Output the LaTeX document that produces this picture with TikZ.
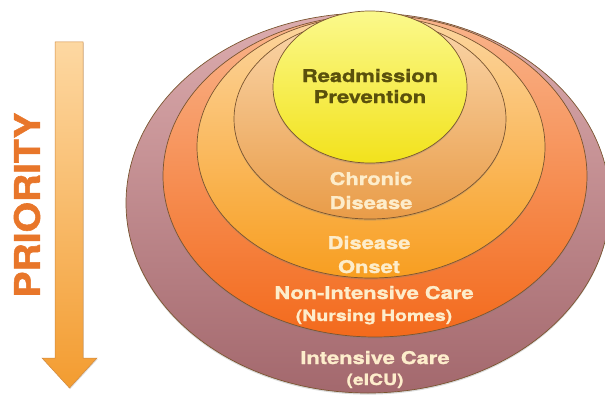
\documentclass[tikz,border=0pt]{standalone}
\usepackage{fontspec}
\setmainfont{TeX Gyre Heros}
\newfontfamily\lbl{TeX Gyre Heros}[FakeStretch=1.25, BoldFeatures={FakeBold=1.3}]
\newfontfamily\prio{TeX Gyre Heros}[BoldFeatures={FakeBold=1.5}]
\usetikzlibrary{shadows}

\definecolor{cream}{HTML}{FDEDCB}
\definecolor{olive}{HTML}{5A500C}
\definecolor{prioorange}{HTML}{E8762A}
\definecolor{ringline}{HTML}{7A5530}
\definecolor{arrowtop}{RGB}{253,216,162}
\definecolor{arrowbot}{RGB}{243,156,48}
\definecolor{arrowline}{RGB}{208,138,64}

\tikzset{
  ring/.style={draw=ringline, line width=0.7pt,
    drop shadow={shadow xshift=0pt, shadow yshift=-1.6pt, opacity=0.3}},
  lbltext/.style={inner sep=0pt, anchor=base, text=cream,
    font=\lbl\bfseries\fontsize{17.5}{21}\selectfont},
  sublbl/.style={lbltext, font=\lbl\bfseries\fontsize{15.5}{19}\selectfont},
}

\begin{document}
\begin{tikzpicture}[x=1pt, y=-1pt]
\useasboundingbox (0,0) rectangle (605,396);

% priority arrow
\path[top color=arrowtop, bottom color=arrowbot, draw=arrowline, line width=0.5pt,
      drop shadow={shadow xshift=0.8pt, shadow yshift=-1pt, opacity=0.25}]
  (55,42) -- (83,42) -- (83,358) -- (97,358) -- (69.5,388) -- (42,358) -- (55,358) -- cycle;
\node[inner sep=0pt, rotate=90, text=prioorange, font=\prio\bfseries\fontsize{35}{40}\selectfont]
  (prio) at (27,205) {\scalebox{1.115}[1]{PRIORITY}};

% nested rings, outermost first
\path[ring, top color={rgb,255:red,220;green,172;blue,174}, bottom color={rgb,255:red,163;green,104;blue,109}]
  (368,203) ellipse [x radius=242pt, y radius=190pt];
\path[ring, top color={rgb,255:red,249;green,180;blue,140}, bottom color={rgb,255:red,243;green,106;blue,28}]
  (375,176) ellipse [x radius=212pt, y radius=161pt];
\path[ring, top color={rgb,255:red,252;green,214;blue,160}, bottom color={rgb,255:red,248;green,158;blue,32}]
  (371,147) ellipse [x radius=174pt, y radius=131pt];
\path[ring, top color={rgb,255:red,250;green,214;blue,170}, bottom color={rgb,255:red,233;green,156;blue,72}]
  (370,119) ellipse [x radius=136pt, y radius=100pt];
\path[ring, top color={rgb,255:red,251;green,249;blue,140}, bottom color={rgb,255:red,242;green,226;blue,28}]
  (370,87) ellipse [x radius=97pt, y radius=76pt];

% labels
\node[lbltext, text=olive] (ra) at (370,82) {Readmission};
\node[lbltext, text=olive] (rb) at (370,103) {Prevention};
\node[lbltext] (ca) at (371,185) {Chronic};
\node[lbltext] (cb) at (371,209) {Disease};
\node[lbltext] (da) at (369,249) {Disease};
\node[lbltext] (db) at (369,273) {Onset};
\node[lbltext] (na) at (374,299) {Non-Intensive Care};
\node[sublbl] (nb) at (374,321) {(Nursing Homes)};
\node[lbltext] (ia) at (375,364) {Intensive Care};
\node[sublbl] (ib) at (375,385) {(eICU)};
\end{tikzpicture}
\end{document}
